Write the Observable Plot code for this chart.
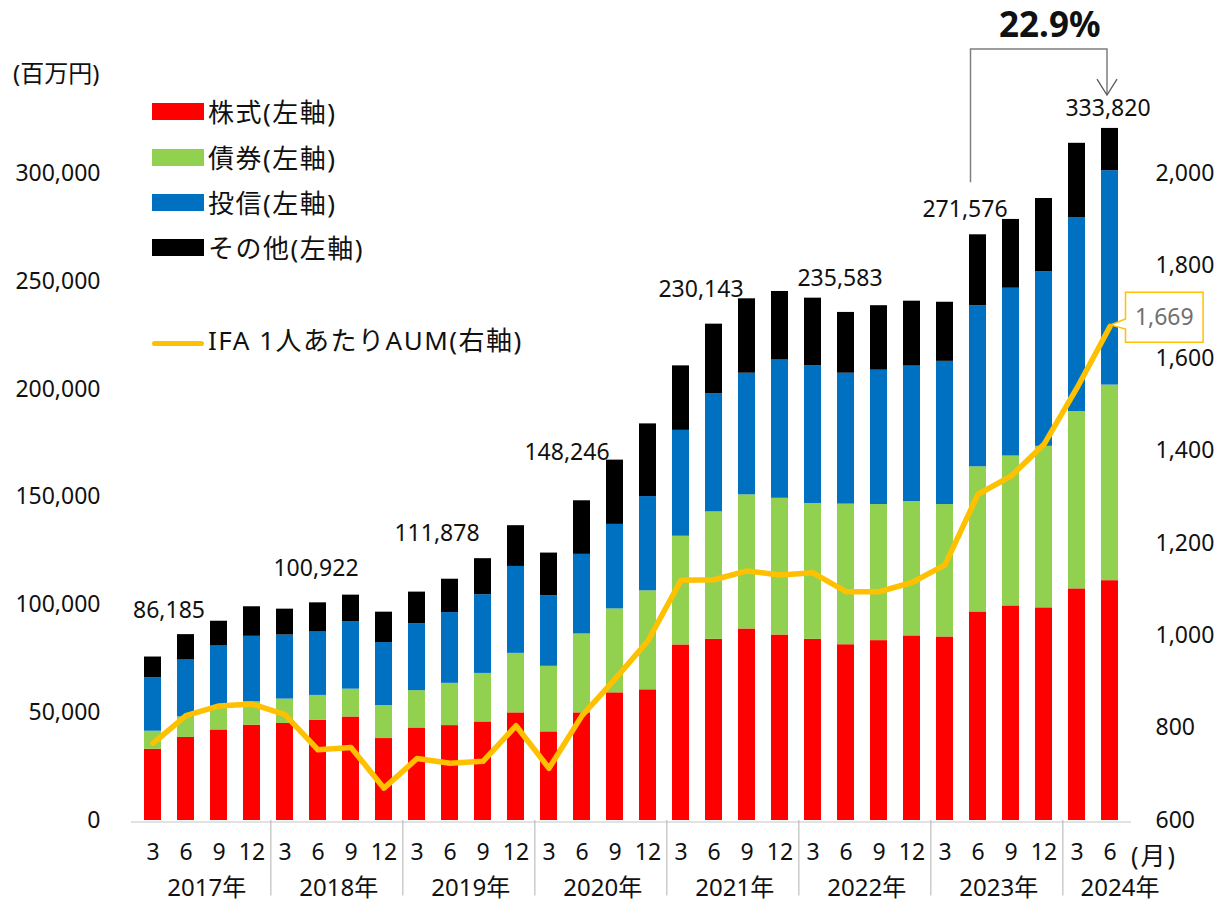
<!DOCTYPE html>
<html><head><meta charset="utf-8">
<script src="https://cdn.jsdelivr.net/npm/d3@7"></script>
<script src="https://cdn.jsdelivr.net/npm/@observablehq/plot@0.6"></script>
<style>
body{margin:0;background:#fff;}
#wrap{position:relative;width:1221px;height:902px;font-family:"Noto Sans","Noto Sans CJK JP",sans-serif;color:#111;overflow:hidden;}
#wrap svg{position:absolute;left:0;top:0;}
.lg{position:absolute;left:208px;height:36px;line-height:36px;font-size:26px;letter-spacing:1.5px;white-space:nowrap;}
.sw{position:absolute;left:152px;width:52px;height:17px;}
.unit{position:absolute;white-space:nowrap;}
</style></head><body><div id="wrap"></div>
<script>
// ---- data ----
const years  = [2017,2017,2017,2017,2018,2018,2018,2018,2019,2019,2019,2019,2020,2020,2020,2020,2021,2021,2021,2021,2022,2022,2022,2022,2023,2023,2023,2023,2024,2024];
const months = [3,6,9,12,3,6,9,12,3,6,9,12,3,6,9,12,3,6,9,12,3,6,9,12,3,6,9,12,3,6];
const stocks = [33000,38500,42000,44200,45000,46400,48000,38000,42900,44000,45700,49900,41100,49900,59200,60600,81400,84000,88800,86000,84000,81500,83400,85600,85100,96700,99500,98600,107400,111200];
const bonds  = [8400,9500,10700,10800,11300,11600,12900,15300,17300,19600,22500,27600,30400,36600,38900,45900,50400,59100,62200,63400,63000,65200,63100,62300,61400,67300,69500,74900,82200,90700];
const funds  = [24800,26400,28200,30400,29700,29400,31200,29200,31000,32800,36500,40300,32700,36900,39200,43700,49100,54700,56400,64100,63800,60700,62300,62800,66400,74700,77800,80900,89800,99400];
const others = [9600,11785,11500,13700,12000,13522,12400,14100,14700,15478,16700,18900,19800,24846,29800,33700,29900,32343,34500,31800,31400,28183,29900,30100,27400,32876,31900,34000,34600,19600];
const aumPerIFA = [767,827,848,852,829,753,758,670,734,724,728,805,713,827,906,989,1120,1121,1140,1131,1136,1095,1095,1115,1153,1306,1345,1414,1536,1669];

const seriesNames  = ["株式(左軸)","債券(左軸)","投信(左軸)","その他(左軸)"];
const seriesColors = ["#FF0000","#92D050","#0070C0","#000000"];
const lineName  = "IFA 1人あたりAUM(右軸)";
const lineColor = "#FFC000";

const leftTicks  = [0,50000,100000,150000,200000,250000,300000];
const rightTicks = [600,800,1000,1200,1400,1600,1800,2000];
const yearNames  = ["2017年","2018年","2019年","2020年","2021年","2022年","2023年","2024年"];

const totalLabelYears  = [2017,2018,2019,2020,2021,2022,2023,2024];
const totalLabelMonths = [6,6,6,6,6,6,6,6];
const totalLabelValues = [86185,100922,111878,148246,230143,235583,271576,333820];
const growthText = "22.9%";
const calloutText = "1,669";
const unitLeft = "(百万円)";
const unitMonth = "(月)";

// ---- styling / layout (not data) ----
const labelNudge = [[-17,-24],[-2,-34],[-13,-46],[-15,-48],[-13,-35],[-6,-34],[-13,-25],[-2,8]];
const FONT = '"Noto Sans","Noto Sans CJK JP",sans-serif';

// ---- build tables ----
const keys = years.map((y,i) => `${y}-${months[i]}`);
const stackRows = [];
keys.forEach((k,i) => {
  [stocks[i], bonds[i], funds[i], others[i]].forEach((v,j) => stackRows.push({key:k, series:seriesNames[j], value:v}));
});
const rightToLeft = 300000 / (2000 - 600);
const lineRows = keys.map((k,i) => ({key:k, aum:aumPerIFA[i]}));
const uniqYears = [...new Set(years)];
const yearRows = uniqYears.map((y,i) => {
  const idx = years.map((yy,j)=>yy===y?j:-1).filter(j=>j>=0);
  return {year:y, name:yearNames[i], key:keys[idx[1]], count:idx.length};
});
const sepKeys = uniqYears.slice(1).map(y => keys[years.indexOf(y)]);
const labelRows = totalLabelValues.map((v,i) => ({key:`${totalLabelYears[i]}-${totalLabelMonths[i]}`, value:v, text:d3.format(",")(v)}));

const X0 = 131, X1 = 1131;
const step = (X1 - X0)/keys.length;

const chart = Plot.plot({
  width: 1221, height: 902,
  marginLeft: X0, marginRight: 1221 - X1, marginTop: 0, marginBottom: 81,
  style: {fontFamily: FONT, fontSize: "23px", color: "#111", background: "transparent"},
  x: {domain: keys, range: [X0, X1], paddingInner: 0.49, paddingOuter: 0.245, axis: null},
  y: {domain: [0, 300000], range: [820, 173], axis: null},
  color: {domain: seriesNames, range: seriesColors},
  marks: [
    Plot.barY(stackRows, {x:"key", y:"value", fill:"series"}),
    Plot.ruleY([0], {stroke:"#d9d9d9", strokeWidth:1.5, dy:1.5}),
    Plot.ruleX(sepKeys, {x:d=>d, y1:0, y2:-35000, dx:-step/2+2.5, stroke:"#bfbfbf", strokeWidth:1.2}),
    Plot.line(lineRows, {x:"key", y:d=>(d.aum-600)*rightToLeft, stroke:lineColor, strokeWidth:5.5, strokeLinejoin:"round", strokeLinecap:"round"}),
    Plot.axisY(leftTicks, {anchor:"left", tickSize:0, tickPadding:31, tickFormat:d3.format(","), fontSize:23, label:null}),
    Plot.axisY(rightTicks.map(t=>(t-600)*rightToLeft), {anchor:"right", tickSize:0, tickPadding:24, tickFormat:d=>d3.format(",")(Math.round(d/rightToLeft+600)), fontSize:23, label:null}),
    Plot.text(keys, {x:d=>d, y:0, dy:32, text:(d,i)=>String(months[i]), fontSize:23}),
    Plot.text(yearRows, {x:"key", y:0, dy:68, text:"name", fontSize:24, filter:d=>d.count===4, dx: step/2+4}),
    Plot.text(yearRows, {x:"key", y:0, dy:68, text:"name", fontSize:24, filter:d=>d.count<4, dx: 10}),
    ...labelRows.map((r,i) => Plot.text([r], {x:"key", y:"value", text:"text", fontSize:23, dx:labelNudge[i][0], dy:labelNudge[i][1]}))
  ]
});
chart.querySelectorAll("text").forEach(t=>t.setAttribute("fill","#111"));
document.getElementById("wrap").appendChild(chart);

// ---- annotations positioned from the plot's scales ----
const svg = d3.select(chart);
const xs = chart.scale("x"), ys = chart.scale("y");
const cx = k => xs.apply(k) + xs.bandwidth/2;
const yv = v => ys.apply(v);
const iFrom = keys.indexOf("2023-6"), iTo = keys.indexOf("2024-6");
const xA = cx(keys[iFrom]) - 7, xB = cx(keys[iTo]) - 2.5;
const yTop = yv(totalLabelValues[7]) - 51;
const yA = yv(totalLabelValues[6]) - 52, yB = yv(totalLabelValues[7]) - 5;
svg.append("path").attr("d",`M${xA},${yA}V${yTop}H${xB}V${yB}`).attr("fill","none").attr("stroke","#7f7f7f").attr("stroke-width",1.5);
svg.append("path").attr("d",`M${xB-10},${yB-16}L${xB},${yB}L${xB+10},${yB-16}`).attr("fill","none").attr("stroke","#595959").attr("stroke-width",1.3);
svg.append("text").attr("x",(xA+xB)/2+11).attr("y",yTop-12).attr("text-anchor","middle")
  .attr("font-family",FONT).attr("font-size",35).attr("font-weight",700).attr("fill","#111").text(growthText);

const lx = cx(keys[keys.length-1]), ly = yv((aumPerIFA[aumPerIFA.length-1]-600)*rightToLeft);
const bl = lx+16, br = lx+93.6, bt = ly-33.7, bb = ly+16.3;
svg.append("path").attr("d",`M${bl},${bt}H${br}V${bb}H${bl}V${ly+3}L${lx+1},${ly-1}L${bl},${ly-7}Z`)
  .attr("fill","#fff").attr("stroke",lineColor).attr("stroke-width",1.5);
svg.append("text").attr("x",(bl+br)/2).attr("y",(bt+bb)/2+8).attr("text-anchor","middle")
  .attr("font-family",FONT).attr("font-size",23).attr("fill","#707070").text(calloutText);

// month unit at right end of axis
svg.append("text").attr("x",X1+23).attr("y",yv(0)+45).attr("text-anchor","middle")
  .attr("font-family",FONT).attr("font-size",25).attr("letter-spacing","2px").attr("fill","#111").text(unitMonth);

// ---- legend & unit (HTML) ----
const wrap = document.getElementById("wrap");
const legendCenters = [112,157.5,203,248];
seriesNames.forEach((n,i)=>{
  const sw = document.createElement("div"); sw.className="sw";
  sw.style.top = (legendCenters[i]-9)+"px"; sw.style.background = seriesColors[i]; wrap.appendChild(sw);
  const t = document.createElement("div"); t.className="lg"; t.style.top=(legendCenters[i]-18)+"px"; t.textContent=n; wrap.appendChild(t);
});
const ln = document.createElement("div"); ln.className="sw";
ln.style.cssText += `top:${343-2.5}px;height:5px;border-radius:3px;background:${lineColor}`; wrap.appendChild(ln);
const lt = document.createElement("div"); lt.className="lg"; lt.style.top=(340-18)+"px"; lt.textContent=lineName; wrap.appendChild(lt);
const u = document.createElement("div"); u.className="unit"; u.style.cssText="left:13px;top:55px;font-size:24px;line-height:36px;"; u.textContent=unitLeft; wrap.appendChild(u);
</script></body></html>
